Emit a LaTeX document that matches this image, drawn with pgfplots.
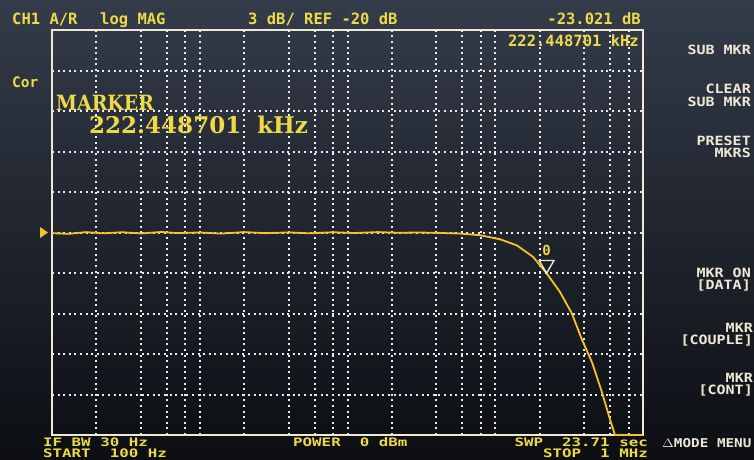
\documentclass[border=0pt]{standalone}
\usepackage{pgfplots}
\pgfplotsset{compat=1.18}
\usepackage{fontspec}
\newfontfamily\mono{DejaVu Sans Mono}
\newfontfamily\mk{DejaVu Serif}

\definecolor{bgtop}{RGB}{52,60,74}
\definecolor{bgbot}{RGB}{12,14,18}
\definecolor{hdr}{RGB}{238,218,72}
\definecolor{trace}{RGB}{242,196,40}
\definecolor{soft}{RGB}{240,232,214}
\definecolor{gridc}{RGB}{236,236,228}

\begin{document}
\begin{tikzpicture}[
    hdrtxt/.style={hdr, inner sep=0pt, font=\mono\bfseries\fontsize{15.5}{16}\selectfont},
    bottxt/.style={hdr, inner sep=0pt, yscale=0.74, font=\mono\bfseries\fontsize{15.8}{16}\selectfont},
    softtxt/.style={soft, inner sep=0pt, anchor=base east, yscale=0.85, font=\mono\bfseries\fontsize{15}{15}\selectfont}]
\shade[top color=bgtop, bottom color=bgbot] (0pt,0pt) rectangle (754pt,459pt);
\useasboundingbox (0pt,0pt) rectangle (754pt,459pt);

\begin{axis}[
    at={(52pt,24pt)}, anchor=south west,
    scale only axis, width=591pt, height=405pt,
    xmode=log, xmin=100, xmax=1000000,
    ymin=-35, ymax=-5,
    xtick={200,400,600,800,1000,2000,4000,6000,8000,10000,20000,40000,60000,80000,100000,200000,400000,600000,800000},
    ytick={-32,-29,-26,-23,-20,-17,-14,-11,-8},
    xticklabels={}, yticklabels={},
    major tick length=0pt, minor tick num=0,
    grid=major,
    grid style={gridc, line width=2pt, dash pattern=on 2pt off 3.6pt},
    axis line style={soft, line width=1.8pt},
]
\addplot[trace, line width=1.8pt] coordinates {
(100,-20.05)(130,-20.10)(170,-19.97)(220,-20.06)(300,-19.98)(400,-20.07)(550,-19.96)(700,-20.04)
(1000,-20.00)(1400,-20.08)(2000,-19.97)(2800,-20.05)(4000,-19.99)(5500,-20.06)(8000,-19.98)
(11000,-20.04)(16000,-19.97)(22000,-20.02)(30000,-20.00)(42000,-20.03)(58000,-20.08)
(78800,-20.20)(107700,-20.50)(140300,-20.96)(180100,-21.80)(222449,-23.02)(274000,-24.40)
(330000,-26.00)(386000,-27.93)(452000,-29.63)(528000,-31.85)(598000,-33.85)(646000,-35)(1000000,-35)
};
\addplot[only marks, mark=triangle, mark size=8.5pt,
    mark options={soft, line width=1.4pt, yshift=8.5pt, rotate=180}]
    coordinates {(222449,-23.021)};
\node[hdr, inner sep=0pt, font=\mono\bfseries\fontsize{14}{14}\selectfont]
    at (axis cs:222449,-23.021) [yshift=23pt] {0};
\coordinate (ref) at (axis cs:100,-20);
\end{axis}

\fill[trace] ([xshift=-12pt,yshift=-5.5pt]ref) -- ([xshift=-4pt]ref) -- ([xshift=-12pt,yshift=5.5pt]ref) -- cycle;

\begin{scope}[x=1pt,y=1pt]
% header
\node[hdrtxt, anchor=base west] at (12,434) {CH1 A/R};
\node[hdrtxt, anchor=base west] at (100,434) {log MAG};
\node[hdrtxt, anchor=base west] at (248,434) {3 dB/ REF -20 dB};
\node[hdrtxt, anchor=base east] at (641,434) {-23.021 dB};
\node[hdrtxt, anchor=base east] at (639,412) {222.448701 kHz};
\node[hdrtxt, anchor=base west, font=\mono\bfseries\fontsize{14.5}{15}\selectfont] at (12,372) {Cor};

% marker readout
\node[hdr, inner sep=0pt, anchor=base west, xscale=0.9, font=\mk\bfseries\fontsize{21}{21}\selectfont] at (56,349) {MARKER};
\node[hdr, inner sep=0pt, anchor=base west, font=\mk\bfseries\fontsize{23}{23}\selectfont] at (89,326) {222.448701~~kHz};

% softkeys
\node[softtxt] at (751,404) {SUB MKR};
\node[softtxt] at (751,366) {CLEAR};
\node[softtxt] at (751,353) {SUB MKR};
\node[softtxt] at (751,314) {PRESET};
\node[softtxt] at (751,302) {MKRS};
\node[softtxt] at (751,182) {MKR ON};
\node[softtxt] at (751,170) {[DATA]};
\node[softtxt] at (753,127) {MKR};
\node[softtxt] at (753,115) {[COUPLE]};
\node[softtxt] at (753,77) {MKR};
\node[softtxt] at (753,65) {[CONT]};
\node[softtxt, anchor=base west, font=\mono\bfseries\fontsize{14.3}{15}\selectfont] at (662,12) {$\Delta$MODE MENU};

% bottom
\node[bottxt, anchor=base west] at (43,13) {IF BW 30 Hz};
\node[bottxt, anchor=base west] at (43,2) {START~~100~Hz};
\node[bottxt, anchor=base west] at (293,13) {POWER~~0~dBm};
\node[bottxt, anchor=base east] at (648,13) {SWP~~23.71~sec};
\node[bottxt, anchor=base east] at (648,2) {STOP~~1~MHz};
\end{scope}
\end{tikzpicture}
\end{document}
